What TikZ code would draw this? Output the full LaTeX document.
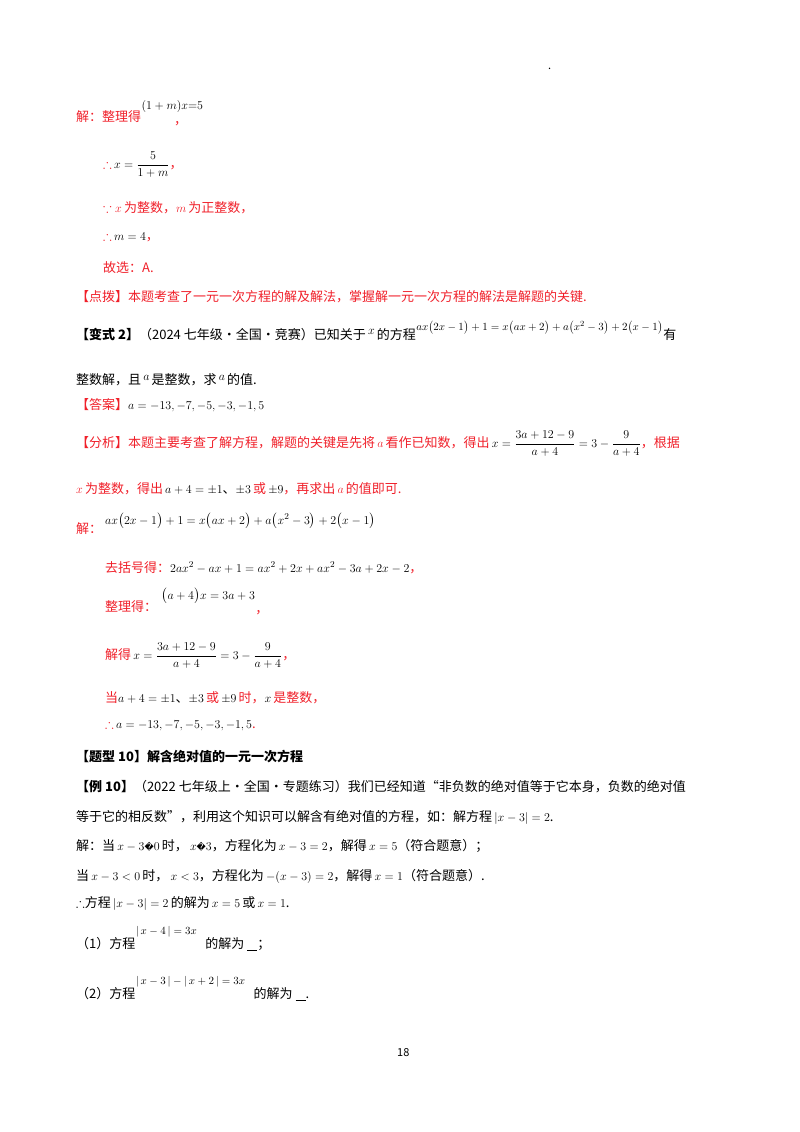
\documentclass[tikz,border=0pt]{standalone}
\usepackage{amsmath,amssymb}
\usepackage{fontspec}
\setmainfont{Noto Sans CJK SC}
\newfontfamily\djv{DejaVu Sans}
\definecolor{rd}{HTML}{F0202A}
\tikzset{t/.style={anchor=base west,inner sep=0pt,font=\fontsize{13}{16}\selectfont},
 r/.style={t,text=rd},
 s/.style={anchor=base west,inner sep=0pt,font=\fontsize{11}{12}\selectfont},
 m/.style={anchor=base west,inner sep=0pt,font=\fontsize{12}{14}\selectfont}}
\newcommand{\bad}{{\djv\fontsize{9}{10}\selectfont\char"FFFD}}
\begin{document}
\begin{tikzpicture}[x=1pt,y=-1pt]
\useasboundingbox (0,0) rectangle (800,1132);
\node[s] (dot) at (548,70) {.};
\node[r] (a1) at (76,121) {解：整理得};
\node[m] (a1m) at ([yshift=12pt]a1.base east) {$(1+m)x{=}5$};
\node[r] (a1c) at (174,124) {，};
\node[r] (a2) at (103,168) {$\therefore$\,\textcolor{black}{$x=\dfrac{5}{1+m}$}，};
\node[r] (a3) at (103,212) {$\because x$\,为整数，$m$\,为正整数，};
\node[r] (a4) at (103,240) {$\therefore$\,\textcolor{black}{$m=4$}，};
\node[r] (a5) at (103,272) {故选：A.};
\node[r] (a6) at (76,301) {【点拨】本题考查了一元一次方程的解及解法，掌握解一元一次方程的解法是解题的关键.};
\node[t] (b1) at (76,339) {\textbf{【变式 2】}（2024 七年级·全国·竞赛）已知关于\,\raisebox{5pt}{$x$}\,的方程};
\node[s] (b1m) at ([yshift=9pt]b1.base east) {$ax\bigl(2x-1\bigr)+1=x\bigl(ax+2\bigr)+a\bigl(x^2-3\bigr)+2\bigl(x-1\bigr)$};
\node[t] (b1e) at ([yshift=-9pt]b1m.base east) {有};
\node[t] (b2) at (76,384) {整数解，且\,\raisebox{4pt}{$a$}\,是整数，求\,\raisebox{4pt}{$a$}\,的值.};
\node[r] (b3) at (76,409) {【答案】\textcolor{black}{$a=-13,-7,-5,-3,-1,5$}};
\node[r] (b4) at (76,447) {【分析】本题主要考查了解方程，解题的关键是先将\,$a$\,看作已知数，得出\,\textcolor{black}{$x=\dfrac{3a+12-9}{a+4}=3-\dfrac{9}{a+4}$}，根据};
\node[r] (b5) at (76,493) {$x$\,为整数，得出\,\textcolor{black}{$a+4=\pm1$、$\pm3$}\,或\,\textcolor{black}{$\pm9$}，再求出\,$a$\,的值即可.};
\node[r] (c1) at (76,533) {解：};
\node[t] (c1m) at (105,524) {$ax\bigl(2x-1\bigr)+1=x\bigl(ax+2\bigr)+a\bigl(x^2-3\bigr)+2\bigl(x-1\bigr)$};
\node[r] (c2) at (105,572) {去括号得：\textcolor{black}{$2ax^2-ax+1=ax^2+2x+ax^2-3a+2x-2$}，};
\node[r] (c3) at (105,611) {整理得：};
\node[t] (c3m) at ([yshift=12pt,xshift=4pt]c3.base east) {$\bigl(a+4\bigr)x=3a+3$};
\node[r] (c3c) at ([yshift=-14pt]c3m.base east) {，};
\node[r] (c4) at (105,659) {解得\,\textcolor{black}{$x=\dfrac{3a+12-9}{a+4}=3-\dfrac{9}{a+4}$}，};
\node[r] (c5) at (105,702) {当\textcolor{black}{$a+4=\pm1$、$\pm3$}\,或\,\textcolor{black}{$\pm9$}\,时，\textcolor{black}{$x$}\,是整数，};
\node[r] (c6) at (105,728) {$\therefore$\,\textcolor{black}{$a=-13,-7,-5,-3,-1,5$}.};
\node[t] (d1) at (76,761) {\textbf{【题型 10】解含绝对值的一元一次方程}};
\node[t] (d2) at (76,791) {\textbf{【例 10】}（2022 七年级上·全国·专题练习）我们已经知道“非负数的绝对值等于它本身，负数的绝对值};
\node[t] (d3) at (76,821) {等于它的相反数”，利用这个知识可以解含有绝对值的方程，如：解方程\,$|x-3|=2$.};
\node[t] (d4) at (76,850) {解：当\,$x-3$\bad$0$\,时，\,$x$\bad$3$，方程化为\,$x-3=2$，解得\,$x=5$（符合题意）；};
\node[t] (d5) at (76,880) {当\,$x-3<0$\,时，\,$x<3$，方程化为\,${-}(x-3)=2$，解得\,$x=1$（符合题意）.};
\node[t] (d6) at (76,907) {$\therefore$方程\,$|x-3|=2$\,的解为\,$x=5$\,或\,$x=1$.};
\node[t] (e1) at (76,948) {（1）方程};
\node[s] (e1m) at ([yshift=14pt]e1.base east) {$|\,x-4\,|=3x$};
\node[t] (e1e) at ([yshift=-14pt,xshift=8pt]e1m.base east) {的解为 \underline{\hspace{10pt}}；};
\node[t] (e2) at (76,998) {（2）方程};
\node[s] (e2m) at ([yshift=14pt]e2.base east) {$|\,x-3\,|-|\,x+2\,|=3x$};
\node[t] (e2e) at ([yshift=-14pt,xshift=8pt]e2m.base east) {的解为 \underline{\hspace{10pt}}.};
\node[s] (pg) at (397,1056) {18};
\end{tikzpicture}
\end{document}
